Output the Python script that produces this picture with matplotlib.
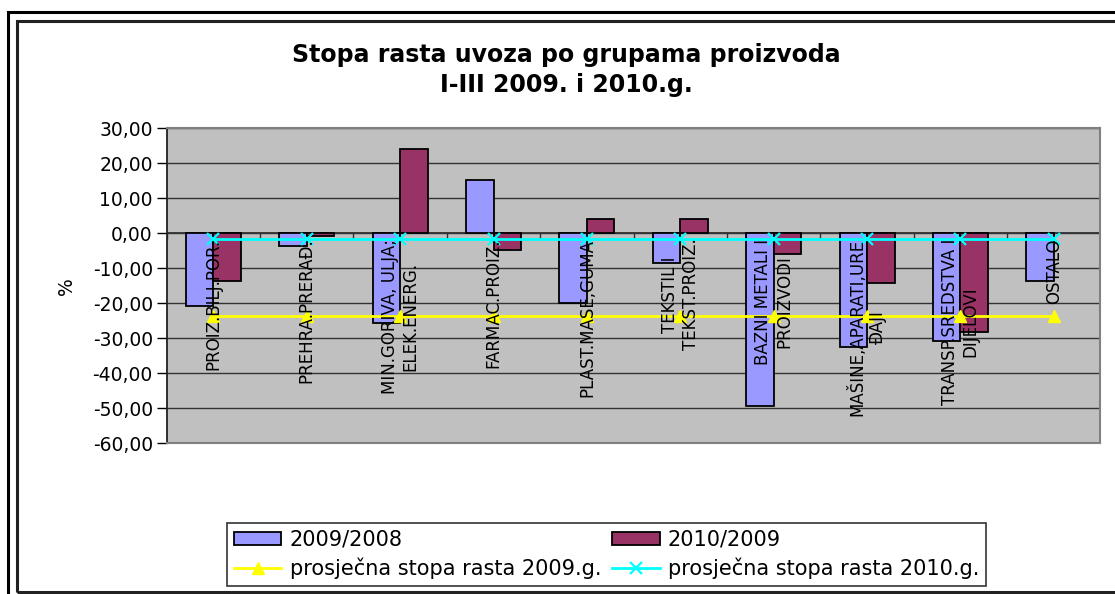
import numpy as np
import matplotlib
matplotlib.use("Agg")
import matplotlib.pyplot as plt
from matplotlib.lines import Line2D

categories = ["PROIZ.BILJ.POR.", "PREHRA.PRERAĐ.", "MIN.GORIVA, ULJA;\nELEK.ENERG.",
              "FARMAC.PROIZ.", "PLAST.MASE,GUMA", "TEKSTIL I\nTEKST.PROIZ.",
              "BAZNI METALI I\nPROIZVODI", "MAŠINE,APARATI,URE\nĐAJI",
              "TRANSP.SREDSTVA I\nDIJELOVI", "OSTALO"]
rast_2009 = [-20.9, -3.7, -25.7, 15.2, -20.0, -8.5, -49.3, -32.6, -30.9, -13.7]
rast_2010 = [-13.7, -0.9, 24.1, -4.8, 4.2, 4.2, -5.8, -14.2, -28.3, np.nan]
prosjek_2009 = [-23.7, -23.7, -23.7, -23.7, -23.7, -23.7, -23.7, -23.7, -23.7, -23.7]
prosjek_2010 = [-1.5, -1.5, -1.5, -1.5, -1.5, -1.5, -1.5, -1.5, -1.5, -1.5]
y_ticks = [30, 20, 10, 0, -10, -20, -30, -40, -50, -60]

W, H = 1115, 594
fig = plt.figure(figsize=(W / 100, H / 100), dpi=100)
fig.patch.set_facecolor("white")

# frames around the chart (outer + inner)
fig.add_artist(plt.Rectangle((8 / W, -0.1), 1.2, 1 - 12 / H + 0.1, transform=fig.transFigure,
                             fill=False, edgecolor="black", lw=2.2))
fig.add_artist(plt.Rectangle((17 / W, 1 - 592 / H), 1.2, (592 - 21) / H, transform=fig.transFigure,
                             fill=False, edgecolor="#222222", lw=2.2))

ax = fig.add_axes([166.7 / W, 1 - 443.3 / H, (1100.5 - 166.7) / W, (443.3 - 128.3) / H])
ax.set_facecolor("#C0C0C0")

x = np.arange(len(categories))
w = 0.295
ax.bar(x - w / 2, rast_2009, w, color="#9999FF", edgecolor="black", lw=1.3, zorder=3)
ax.bar(x + w / 2, rast_2010, w, color="#993366", edgecolor="black", lw=1.3, zorder=3)
ax.axhline(0, color="#333333", lw=1.3, zorder=2)
ax.plot(np.arange(len(categories) + 1) - 0.5, np.zeros(len(categories) + 1), ls="none",
        marker=3, color="#333333", ms=4, mew=1, zorder=2)
ax.plot(x, prosjek_2009, color="#FFFF00", lw=2, marker="^", ms=9, zorder=4)
ax.plot(x, prosjek_2010, color="#00FFFF", lw=2, marker="x", ms=9, mew=1.6, zorder=4)

for i, lab in enumerate(categories):
    ax.text(i, -1.5, lab, rotation=90, ha="center", va="top", multialignment="center",
            fontsize=12, zorder=5)

ax.set_xlim(-0.5, len(categories) - 0.5)
ax.set_ylim(-60, 30)
ax.set_xticks([])
ax.set_yticks(y_ticks)
ax.set_yticklabels([f"{v:.2f}".replace(".", ",") for v in y_ticks], fontsize=13.5)
ax.tick_params(axis="y", direction="out", length=7, width=1, pad=3)
ax.yaxis.grid(True, color="#333333", lw=1)
ax.set_axisbelow(True)
for s in ["top", "right", "bottom"]:
    ax.spines[s].set_color("#808080")
    ax.spines[s].set_linewidth(1.5)
ax.spines["left"].set_color("#222222")
ax.spines["left"].set_linewidth(1.3)
ax.set_ylabel("%", fontsize=13.5, labelpad=12)

fig.text(566 / W, 1 - 55 / H, "Stopa rasta uvoza po grupama proizvoda", ha="center", va="center",
         fontsize=17, fontweight="bold")
fig.text(566 / W, 1 - 85 / H, "I-III 2009. i 2010.g.", ha="center", va="center",
         fontsize=17, fontweight="bold")

handles = [
    plt.Rectangle((0, 0), 1, 1, facecolor="#9999FF", edgecolor="black", lw=1.3),
    Line2D([], [], color="#FFFF00", lw=2, marker="^", ms=9),
    plt.Rectangle((0, 0), 1, 1, facecolor="#993366", edgecolor="black", lw=1.3),
    Line2D([], [], color="#00FFFF", lw=2, marker="x", ms=9, mew=1.6),
]
labels = ["2009/2008", "prosječna stopa rasta 2009.g.", "2010/2009", "prosječna stopa rasta 2010.g."]
leg = fig.legend(handles, labels, ncol=2, loc="upper left",
                 bbox_to_anchor=(227.3 / W, 1 - 523.3 / H),
                 fontsize=15, frameon=True, fancybox=False,
                 edgecolor="black", borderaxespad=0, handlelength=2.3, handleheight=0.58,
                 handletextpad=0.4, borderpad=0.3, labelspacing=0.4, columnspacing=0.5)
leg.get_frame().set_linewidth(1.2)

fig.savefig("out.png", dpi=100)
